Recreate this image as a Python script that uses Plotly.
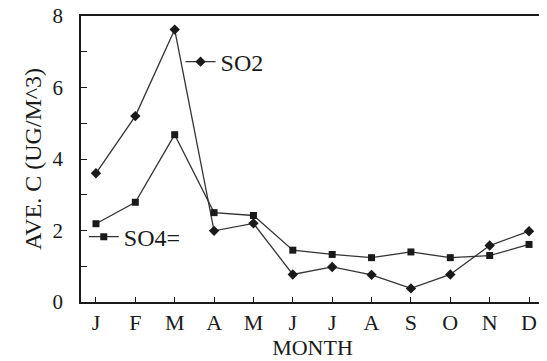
import plotly.graph_objects as go

months = ["J", "F", "M", "A", "M", "J", "J", "A", "S", "O", "N", "D"]
month_idx = list(range(12))
so2 = [3.6, 5.2, 7.62, 1.99, 2.2, 0.77, 0.98, 0.76, 0.38, 0.77, 1.58, 1.98]
so4 = [2.19, 2.79, 4.68, 2.5, 2.42, 1.45, 1.33, 1.24, 1.40, 1.24, 1.30, 1.61]

ink = "#1a1a1a"
line_col = "#333333"
serif = "Times New Roman, Liberation Serif, Times, serif"

fig = go.Figure()
fig.add_trace(go.Scatter(
    x=month_idx, y=so2, name="SO2", mode="lines+markers",
    line=dict(color=line_col, width=1.3),
    marker=dict(symbol="diamond", size=8, color=ink),
    legend="legend",
))
fig.add_trace(go.Scatter(
    x=month_idx, y=so4, name="SO4=", mode="lines+markers",
    line=dict(color=line_col, width=1.3),
    marker=dict(symbol="square", size=7, color=ink),
    legend="legend2",
))

leg_common = dict(
    bgcolor="rgba(0,0,0,0)", borderwidth=0,
    font=dict(family=serif, size=24, color=ink),
    itemwidth=30, xanchor="left", yanchor="middle",
)
fig.update_layout(
    width=539, height=353,
    margin=dict(l=73, r=3, t=8, b=59),
    paper_bgcolor="white", plot_bgcolor="white",
    font=dict(family=serif, color=ink),
    legend=dict(x=0.215, y=0.839, **leg_common),
    legend2=dict(x=0.006, y=0.227, **leg_common),
    showlegend=True,
)
fig.update_xaxes(
    range=[-0.38, 11.38],
    tickmode="array", tickvals=month_idx, ticktext=months,
    ticks="inside", ticklen=5, tickcolor=ink, tickwidth=1,
    showline=True, linecolor=ink, linewidth=1.8, mirror=True,
    showgrid=False, zeroline=False,
    tickfont=dict(family=serif, size=22, color=ink),
    title=dict(text="MONTH", font=dict(family=serif, size=22, color=ink), standoff=2),
    automargin=False,
)
fig.update_yaxes(
    range=[0, 8], dtick=2, tick0=0,
    ticks="inside", ticklen=6, tickcolor=ink, tickwidth=1,
    minor=dict(dtick=1, ticks="inside", ticklen=6, tickcolor=ink, tickwidth=1, showgrid=False),
    showline=True, linecolor=ink, linewidth=1.8, mirror=True,
    showgrid=False, zeroline=False,
    tickfont=dict(family=serif, size=21, color=ink),
    ticklabeloverflow="allow", ticklabelstandoff=12,
    title=dict(text="AVE. C (UG/M^3)", font=dict(family=serif, size=24, color=ink), standoff=4),
    automargin=False,
)

fig.write_html("out.html")
